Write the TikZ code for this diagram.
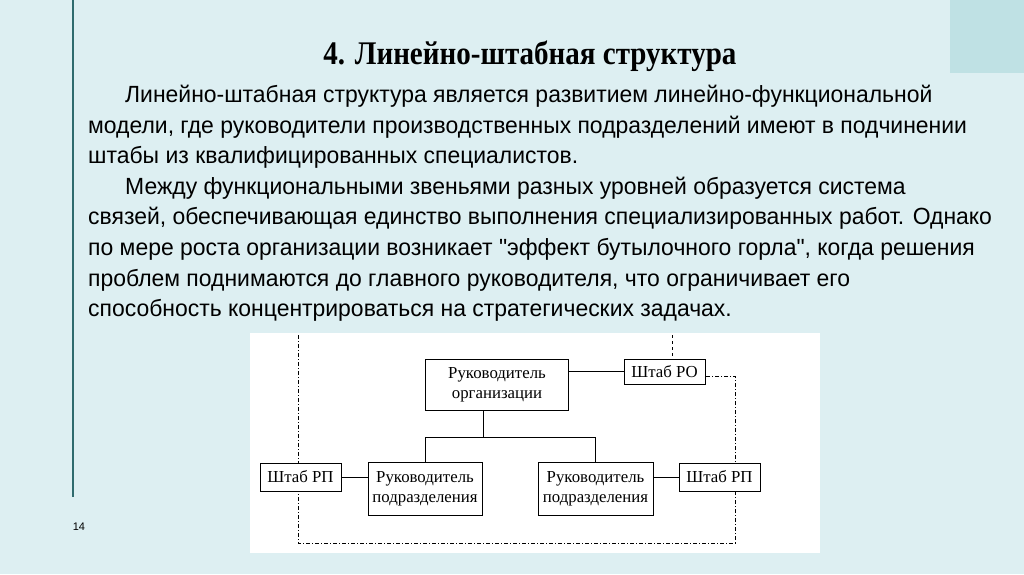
\documentclass[tikz,border=0pt]{standalone}
\usepackage{fontspec}
\setmainfont{Liberation Serif}
\newfontfamily\bodyfont{Liberation Sans}
\definecolor{bg}{HTML}{DDEFF2}
\definecolor{corner}{HTML}{BFE1E4}
\definecolor{rule}{HTML}{2F6B6E}
\begin{document}
\begin{tikzpicture}[x=1pt,y=-1pt,
  body/.style={anchor=west,inner sep=0pt,font=\bodyfont\fontsize{23.4}{26}\selectfont,xscale=0.98},
  box/.style={draw,thick,fill=white,inner sep=0pt,align=center,font=\fontsize{16.8}{20}\selectfont},
  link/.style={thick},
  dd/.style={thick,dash pattern=on 4pt off 2pt on 1pt off 2pt}]
\useasboundingbox (0,0) rectangle (1024,574);
\fill[bg] (0,0) rectangle (1024,574);
\fill[corner] (950,0) rectangle (1024,73);
\draw[rule,line width=1.2pt] (73,0) -- (73,497);
\node[inner sep=0pt,font=\bodyfont\fontsize{11}{13}\selectfont] (pg) at (79,527) {14};
\node[inner sep=0pt,font=\bfseries\fontsize{33}{36}\selectfont,xscale=0.88] (title) at (530,56) {4. Линейно-штабная структура};
\node[body] (l1) at (125,96) {Линейно-штабная структура является развитием линейно-функциональной};
\node[body] (l2) at (88,127) {модели, где руководители производственных подразделений имеют в подчинении};
\node[body] (l3) at (88,157) {штабы из квалифицированных специалистов.};
\node[body] (l4) at (125,188) {Между функциональными звеньями разных уровней образуется система};
\node[body] (l5) at (88,218) {связей, обеспечивающая единство выполнения специализированных работ. Однако};
\node[body] (l6) at (88,249) {по мере роста организации возникает "эффект бутылочного горла", когда решения};
\node[body] (l7) at (88,280) {проблем поднимаются до главного руководителя, что ограничивает его};
\node[body] (l8) at (88,310) {способность концентрироваться на стратегических задачах.};
\fill[white] (250,333) rectangle (820,553);
\coordinate (tl) at (298,335);
\coordinate (bl) at (298,543);
\coordinate (br) at (735,543);
\coordinate (rr) at (735,376);
\coordinate (tt) at (672,335);
\draw[dd] (tl) -- (bl) -- (br) -- (rr) -- (705,376);
\draw[thick,dashed] (tt) -- (672,359);
\node[box,minimum width=143,minimum height=51] (ro) at (497,384.5) {Руководитель\\организации};
\node[box,minimum width=81,minimum height=25] (sro) at (664.5,371.5) {Штаб РО};
\node[box,minimum width=114,minimum height=53] (p1) at (425,488.5) {Руководитель\\подразделения};
\node[box,minimum width=115,minimum height=53] (p2) at (595.5,488.5) {Руководитель\\подразделения};
\node[box,minimum width=81,minimum height=28] (s1) at (300.5,477) {Штаб РП};
\node[box,minimum width=81,minimum height=28] (s2) at (719.5,477) {Штаб РП};
\coordinate (j) at (483,437);
\draw[link] (ro.south -| j) -- (j);
\draw[link] (p1.north) |- (j) -| (p2.north);
\draw[link] (ro.east |- sro) -- (sro.west);
\draw[link] (s1.east) -- (p1.west |- s1);
\draw[link] (s2.west) -- (p2.east |- s2);
\end{tikzpicture}
\end{document}
